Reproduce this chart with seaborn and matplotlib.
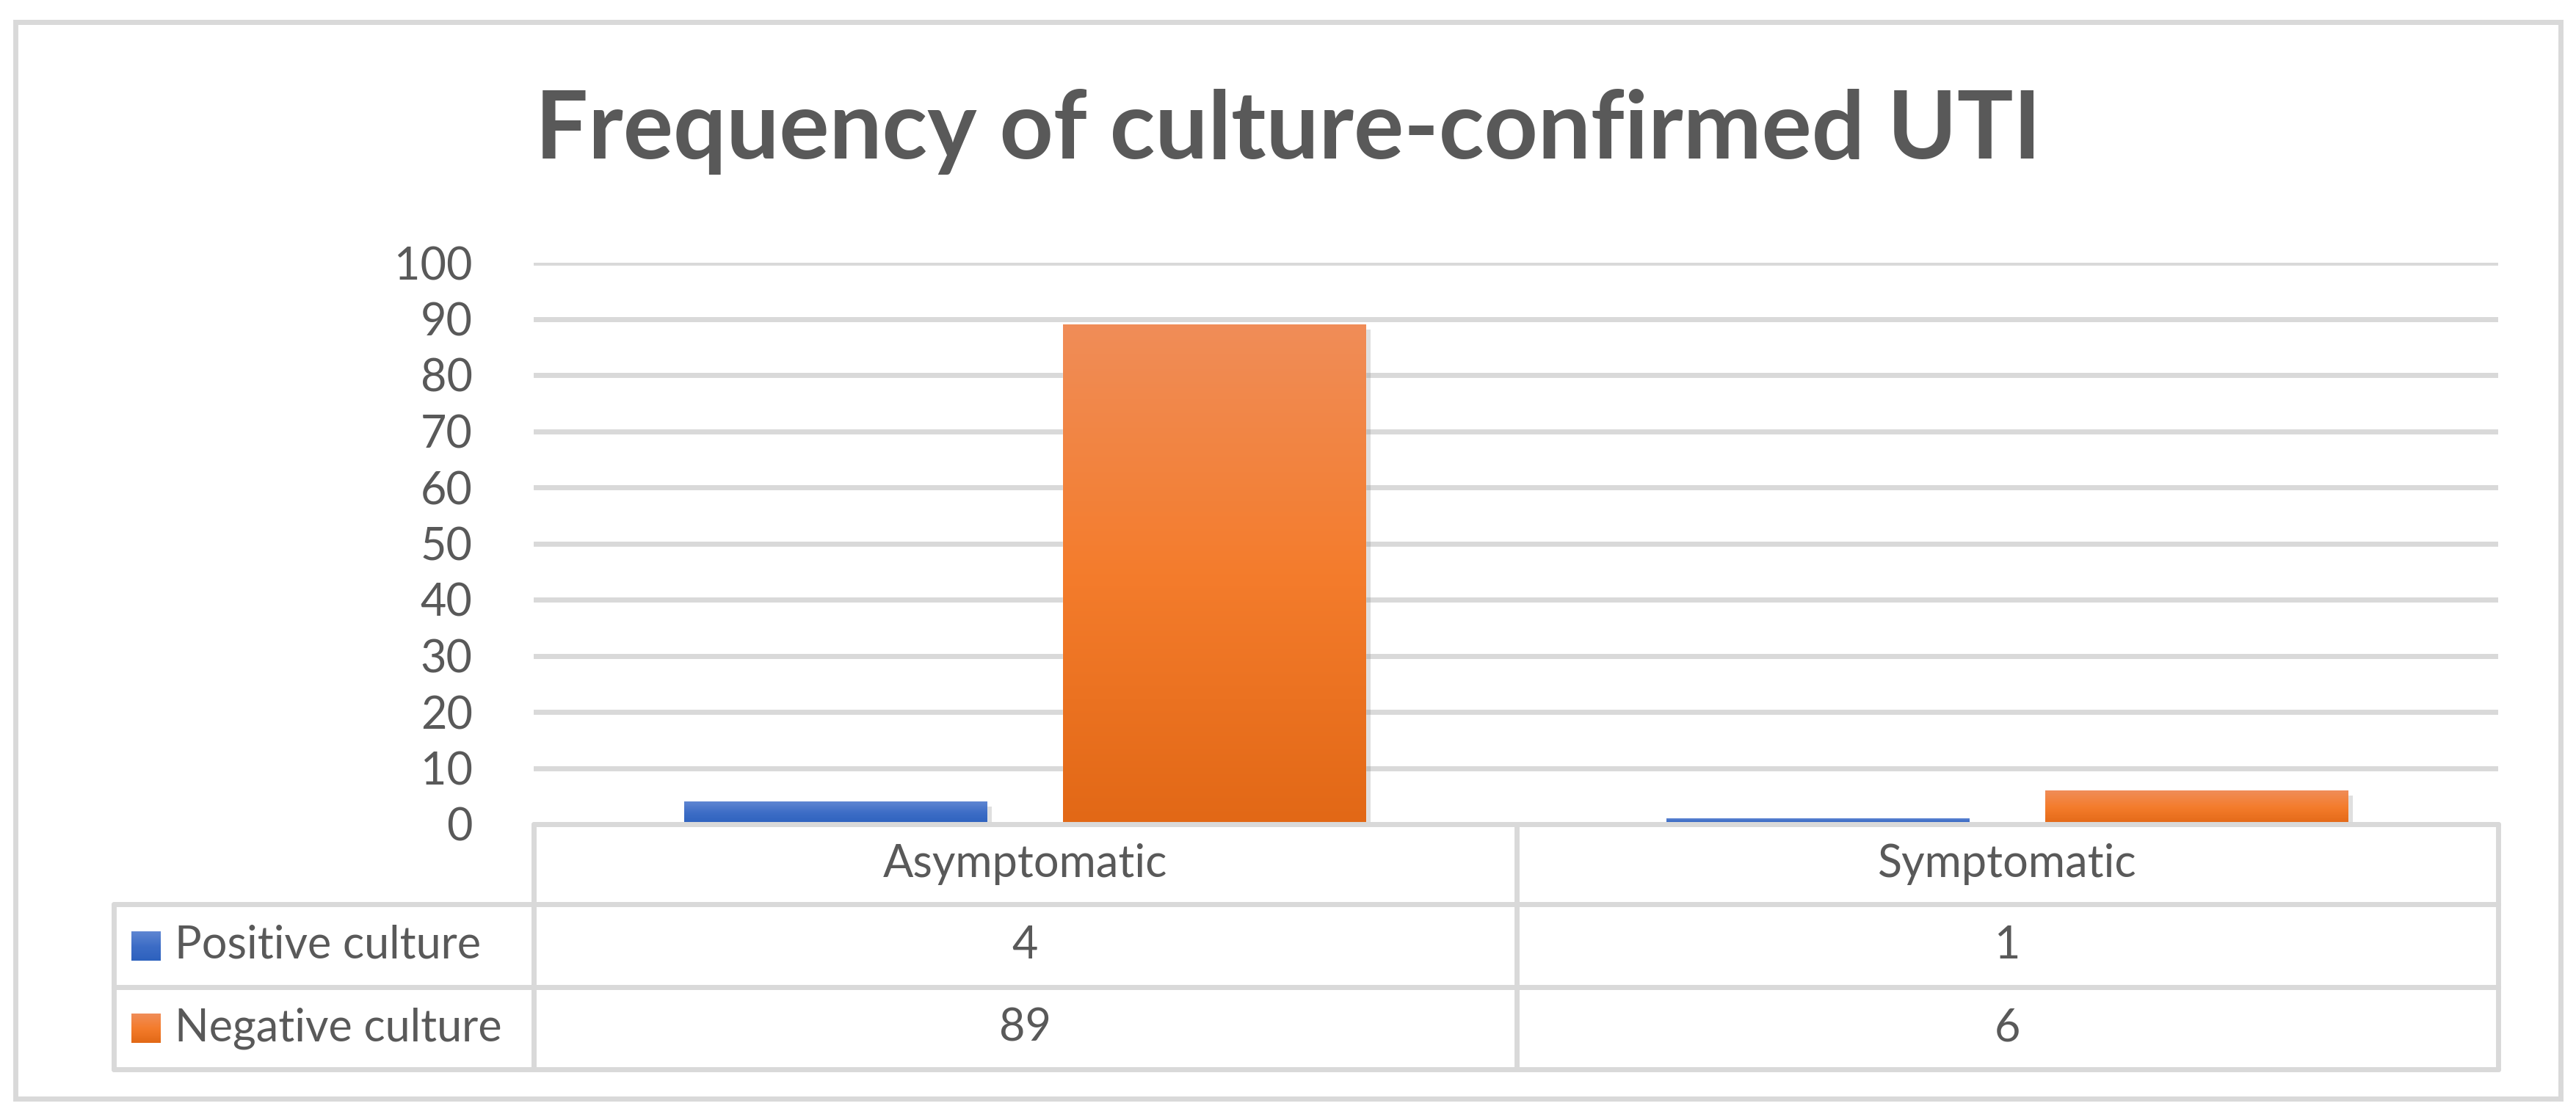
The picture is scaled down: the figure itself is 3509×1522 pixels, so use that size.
import numpy as np
import pandas as pd
import matplotlib
matplotlib.use("Agg")
import matplotlib.pyplot as plt
import matplotlib.patheffects as pe
from matplotlib.colors import LinearSegmentedColormap
from matplotlib.lines import Line2D
import seaborn as sns

# data
groups = ["Asymptomatic", "Symptomatic"]
series = ["Positive culture", "Negative culture"]
positive = [4, 1]
negative = [89, 6]
y_ticks = [0, 10, 20, 30, 40, 50, 60, 70, 80, 90, 100]
title = "Frequency of culture-confirmed UTI"

# gradient colours (bottom -> top) per series
grad = {
    "Positive culture": ["#2D61BE", "#3D6DC6", "#5F86D2"],
    "Negative culture": ["#E26816", "#F47C2C", "#F08D58"],
}
text_col = "#595959"
line_col = "#D9D9D9"

df = pd.DataFrame({
    "group": groups * 2,
    "series": [series[0]] * 2 + [series[1]] * 2,
    "value": positive + negative,
})

sns.set_style("white")
plt.rcParams["font.family"] = ["Lato", "DejaVu Sans"]

W, H = 3509, 1522
fig = plt.figure(figsize=(W / 100, H / 100), dpi=100)


def fx(px):
    return px / W


def fy(py):
    return 1 - py / H


# plot area in pixels
left, right, top, base = 727, 3403, 358, 1123
ax = fig.add_axes([fx(left), fy(base), fx(right - left), (base - top) / H])

sns.barplot(data=df, x="group", y="value", hue="series", order=groups,
            hue_order=series, palette=[grad[s][1] for s in series],
            width=0.77, gap=0.2, legend=False, ax=ax, zorder=3)

ax.set_ylim(0, 100)
ax.set_xlim(-0.5, 1.5)
ax.set_yticks(y_ticks)
ax.set_yticklabels([str(t) for t in y_ticks])
ax.tick_params(axis="y", length=0, pad=60, labelsize=44, labelcolor=text_col)
ax.set_xticks([])
ax.set_xlabel("")
ax.set_ylabel("")
for s in ax.spines.values():
    s.set_visible(False)
ax.yaxis.grid(True, color=line_col, linewidth=5, zorder=0)
ax.set_axisbelow(True)

# gradient fill + soft shadow on bars
n_groups = len(groups)
for i, patch in enumerate(ax.patches):
    s = series[i // n_groups]
    cmap = LinearSegmentedColormap.from_list(s, grad[s])
    x0, y0 = patch.get_x(), patch.get_y()
    w, h = patch.get_width(), patch.get_height()
    patch.set_path_effects([pe.SimplePatchShadow(offset=(5, -5), shadow_rgbFace="#808080", alpha=0.25),
                            pe.Normal()])
    img = ax.imshow(np.linspace(0, 1, 256).reshape(-1, 1), extent=[x0, x0 + w, y0, y0 + h],
                    origin="lower", cmap=cmap, aspect="auto", zorder=4)
    img.set_clip_path(patch)
ax.set_xlim(-0.5, 1.5)
ax.set_ylim(0, 100)

# data table under the chart
lw = 5
col_edges = [left, 2066, right]
row_edges = [base, 1232, 1345, 1457]
table_left = 155


def hline(y, x0, x1):
    fig.add_artist(Line2D([fx(x0), fx(x1)], [fy(y), fy(y)], color=line_col, lw=lw, zorder=1))


def vline(x, y0, y1):
    fig.add_artist(Line2D([fx(x), fx(x)], [fy(y0), fy(y1)], color=line_col, lw=lw, zorder=1))


hline(row_edges[0], left, right)
for y in row_edges[1:]:
    hline(y, table_left, right)
for x in col_edges:
    vline(x, row_edges[0], row_edges[-1])
vline(table_left, row_edges[1], row_edges[-1])

for j, g in enumerate(groups):
    cx = (col_edges[j] + col_edges[j + 1]) / 2
    fig.text(fx(cx), fy((row_edges[0] + row_edges[1]) / 2), g, ha="center", va="center",
             fontsize=44, color=text_col)
    for r, vals in enumerate([positive, negative]):
        fig.text(fx(cx), fy((row_edges[r + 1] + row_edges[r + 2]) / 2), str(vals[j]),
                 ha="center", va="center", fontsize=44, color=text_col)

for r, s in enumerate(series):
    cy = (row_edges[r + 1] + row_edges[r + 2]) / 2
    kax = fig.add_axes([fx(179), fy(cy + 20), 40 / W, 40 / H])
    kax.imshow(np.linspace(0, 1, 64).reshape(-1, 1), origin="lower",
               cmap=LinearSegmentedColormap.from_list(s + "k", grad[s]), aspect="auto")
    kax.axis("off")
    fig.text(fx(238), fy(cy), s, ha="left", va="center", fontsize=44, color=text_col)

# title
fig.text(0.5 * (fx(724) + fx(2785)), fy(179), title, ha="center", va="center",
         fontsize=92, fontweight="bold", color=text_col)

# chart border
fig.add_artist(plt.Rectangle((fx(21), fy(1497)), fx(3488 - 21), (1497 - 30) / H,
                             fill=False, edgecolor=line_col, lw=lw))

fig.savefig("out.png", dpi=100, facecolor="white")
